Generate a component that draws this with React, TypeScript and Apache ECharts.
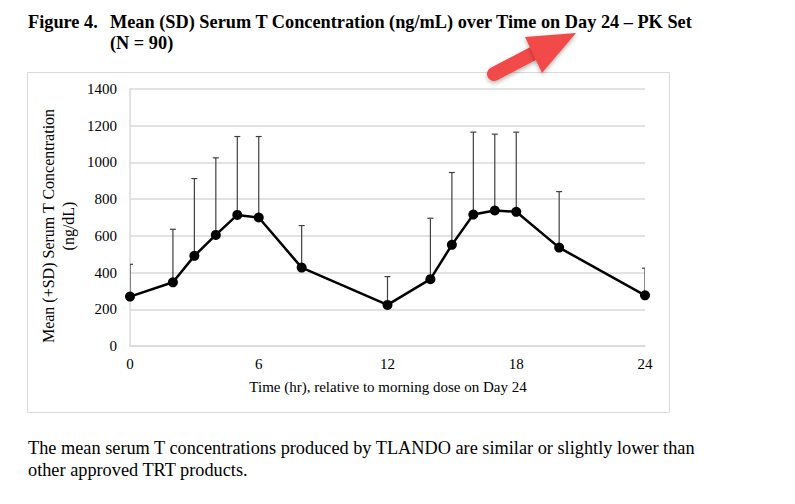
import React, { useEffect, useRef } from "react";
import * as echarts from "echarts";

const times = [0, 2, 3, 4, 5, 6, 8, 12, 14, 15, 16, 17, 18, 20, 24];
const means = [269, 347, 491, 605, 714, 700, 427, 224, 364, 551, 716, 738, 731, 536, 276];
const upperSD = [445, 636, 912, 1025, 1141, 1141, 656, 378, 696, 945, 1165, 1154, 1165, 841, 424];

const titleLabel = "Figure 4.";
const titleLine1 = "Mean (SD) Serum T Concentration (ng/mL) over Time on Day 24 \u2013 PK Set";
const titleLine2 = "(N = 90)";
const yTitle1 = "Mean (+SD) Serum T Concentration";
const yTitle2 = "(ng/dL)";
const xTitle = "Time (hr), relative to morning dose on Day 24";
const para1 = "The mean serum T concentrations produced by TLANDO are similar or slightly lower than";
const para2 = "other approved TRT products.";

const FONT = "'Liberation Serif', 'Times New Roman', serif";

export default function App() {
  const ref = useRef<HTMLDivElement>(null);
  useEffect(() => {
    if (!ref.current) return;
    const chart = echarts.init(ref.current, null, { renderer: "svg" });
    const meanData = times.map((t, i) => [t, means[i]]);
    const errData = times.map((t, i) => [t, means[i], upperSD[i]]);
    chart.setOption({
      animation: false,
      backgroundColor: "#ffffff",
      grid: { left: 130, top: 89, right: 150, bottom: 158 },
      xAxis: {
        type: "value",
        min: 0,
        max: 24,
        interval: 6,
        axisLine: { show: true, lineStyle: { color: "#d9d9d9", width: 1.5 } },
        axisTick: { show: false },
        splitLine: { show: false },
        axisLabel: { color: "#000", fontFamily: FONT, fontSize: 15, margin: 10, formatter: (v: number) => String(v) },
      },
      yAxis: {
        type: "value",
        min: 0,
        max: 1400,
        interval: 200,
        axisLine: { show: true, lineStyle: { color: "#d9d9d9", width: 1.5 } },
        axisTick: { show: false },
        splitLine: { show: true, lineStyle: { color: "#d9d9d9", width: 1.5 } },
        axisLabel: { color: "#000", fontFamily: FONT, fontSize: 15, margin: 13, formatter: (v: number) => String(v) },
      },
      series: [
        {
          type: "custom",
          z: 1,
          clip: true,
          data: errData,
          renderItem: (params: any, api: any) => {
            const x = api.value(0);
            const p0 = api.coord([x, api.value(1)]);
            const p1 = api.coord([x, api.value(2)]);
            const cw = 3;
            return {
              type: "group",
              children: [
                {
                  type: "line",
                  shape: { x1: p0[0], y1: p0[1], x2: p1[0], y2: p1[1] },
                  style: { stroke: "#404040", lineWidth: 1.2 },
                },
                {
                  type: "line",
                  shape: { x1: p1[0] - cw, y1: p1[1], x2: p1[0] + cw, y2: p1[1] },
                  style: { stroke: "#404040", lineWidth: 1.2 },
                },
              ],
            };
          },
        },
        {
          type: "line",
          z: 3,
          data: meanData,
          symbol: "circle",
          symbolSize: 10,
          lineStyle: { color: "#000", width: 2.5 },
          itemStyle: { color: "#000" },
        },
      ],
      graphic: [
        {
          type: "rect",
          shape: { x: 27.5, y: 72.5, width: 642, height: 340 },
          style: { fill: "none", stroke: "#d9d9d9", lineWidth: 1 },
          z: -1,
        },
        {
          type: "text",
          x: 28,
          y: 22,
          style: { text: titleLabel, font: `bold 18.3px ${FONT}`, fill: "#000", textVerticalAlign: "middle" },
        },
        {
          type: "text",
          x: 110,
          y: 22,
          style: { text: titleLine1, font: `bold 18.3px ${FONT}`, fill: "#000", textVerticalAlign: "middle" },
        },
        {
          type: "text",
          x: 110,
          y: 43,
          style: { text: titleLine2, font: `bold 18.3px ${FONT}`, fill: "#000", textVerticalAlign: "middle" },
        },
        {
          type: "text",
          x: 48,
          y: 226,
          rotation: Math.PI / 2,
          style: { text: yTitle1, font: `16px ${FONT}`, fill: "#000", textAlign: "center", textVerticalAlign: "middle" },
        },
        {
          type: "text",
          x: 68,
          y: 226,
          rotation: Math.PI / 2,
          style: { text: yTitle2, font: `16px ${FONT}`, fill: "#000", textAlign: "center", textVerticalAlign: "middle" },
        },
        {
          type: "text",
          x: 388,
          y: 387,
          style: { text: xTitle, font: `15px ${FONT}`, fill: "#000", textAlign: "center", textVerticalAlign: "middle" },
        },
        {
          type: "text",
          x: 28,
          y: 448,
          style: { text: para1, font: `18.3px ${FONT}`, fill: "#000", textVerticalAlign: "middle" },
        },
        {
          type: "text",
          x: 28,
          y: 470,
          style: { text: para2, font: `18.3px ${FONT}`, fill: "#000", textVerticalAlign: "middle" },
        },
        {
          type: "group",
          z: 10,
          children: [
            {
              type: "line",
              shape: { x1: 494, y1: 74, x2: 536, y2: 52 },
              style: {
                stroke: "#f24848",
                lineWidth: 14,
                lineCap: "round",
                shadowBlur: 4,
                shadowColor: "rgba(0,0,0,0.3)",
                shadowOffsetY: 2,
              },
            },
            {
              type: "polygon",
              shape: { points: [[576, 33], [525, 37], [542, 73]] },
              style: {
                fill: "#f24848",
                shadowBlur: 4,
                shadowColor: "rgba(0,0,0,0.3)",
                shadowOffsetY: 2,
              },
            },
          ],
        },
      ],
    });
    return () => chart.dispose();
  }, []);
  return (
    <div
      ref={ref}
      style={{ position: "absolute", left: 0, top: 0, width: 795, height: 504 }}
    />
  );
}
